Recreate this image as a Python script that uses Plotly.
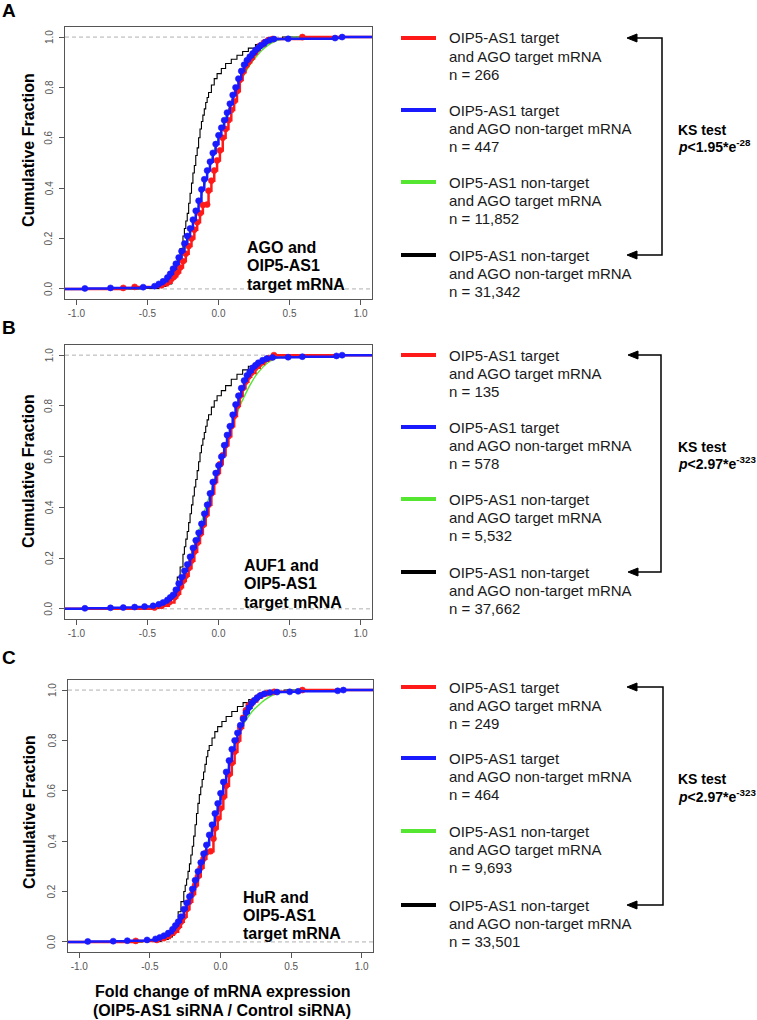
import plotly.graph_objects as go

W, H = 757, 1020
FONT = "Liberation Sans, Arial, Helvetica, sans-serif"

# ---------------- data ----------------
XLIM = [-1.08, 1.08]
YLIM = [-0.04, 1.04]
x_tick_vals = [-1.0, -0.5, 0.0, 0.5, 1.0]
x_tick_text = ["-1.0", "-0.5", "0.0", "0.5", "1.0"]
y_tick_vals = [0.0, 0.2, 0.4, 0.6, 0.8, 1.0]
y_tick_text = ["0.0", "0.2", "0.4", "0.6", "0.8", "1.0"]
ref_lines = [0.0, 1.0]

panel_letters = ["A", "B", "C"]
rbp_names = ["AGO", "AUF1", "HuR"]
series_line1 = ["OIP5-AS1 target", "OIP5-AS1 target", "OIP5-AS1 non-target", "OIP5-AS1 non-target"]
series_line2 = ["and AGO target mRNA", "and AGO non-target mRNA", "and AGO target mRNA", "and AGO non-target mRNA"]
series_colors = ["#ff1a1a", "#1a1aff", "#55e632", "#000000"]

n_A = ["266", "447", "11,852", "31,342"]
n_B = ["135", "578", "5,532", "37,662"]
n_C = ["249", "464", "9,693", "33,501"]
ks_base = ["1.95", "2.97", "2.97"]
ks_exp = ["-28", "-323", "-323"]

# Panel A
A_red_x = [-0.67, -0.59, -0.40, -0.36, -0.33, -0.31, -0.29, -0.27, -0.25, -0.23, -0.21, -0.19, -0.17, -0.15, -0.13, -0.11, -0.08, -0.07, -0.05, -0.03, -0.01, 0.01, 0.03, 0.05, 0.07, 0.09, 0.11, 0.13, 0.15, 0.17, 0.19, 0.21, 0.23, 0.25, 0.27, 0.29, 0.32, 0.35, 0.38, 0.59]
A_red_y = [0.004, 0.008, 0.015, 0.025, 0.04, 0.05, 0.065, 0.085, 0.11, 0.14, 0.17, 0.20, 0.235, 0.265, 0.30, 0.333, 0.335, 0.39, 0.43, 0.47, 0.51, 0.55, 0.60, 0.635, 0.67, 0.71, 0.745, 0.785, 0.83, 0.86, 0.885, 0.90, 0.915, 0.935, 0.95, 0.965, 0.978, 0.988, 0.992, 1.0]
A_blue_x = [-0.94, -0.76, -0.53, -0.45, -0.42, -0.39, -0.36, -0.34, -0.32, -0.30, -0.28, -0.26, -0.24, -0.22, -0.20, -0.18, -0.16, -0.14, -0.12, -0.10, -0.08, -0.06, -0.04, -0.02, 0.00, 0.02, 0.04, 0.06, 0.08, 0.10, 0.12, 0.14, 0.16, 0.18, 0.20, 0.22, 0.24, 0.26, 0.28, 0.30, 0.33, 0.36, 0.39, 0.49, 0.82, 0.87]
A_blue_y = [0.002, 0.004, 0.007, 0.011, 0.02, 0.03, 0.045, 0.06, 0.08, 0.10, 0.125, 0.15, 0.18, 0.21, 0.24, 0.275, 0.31, 0.35, 0.395, 0.435, 0.47, 0.505, 0.54, 0.575, 0.61, 0.64, 0.67, 0.70, 0.735, 0.77, 0.80, 0.835, 0.865, 0.89, 0.908, 0.922, 0.935, 0.948, 0.958, 0.968, 0.98, 0.988, 0.992, 0.993, 0.996, 1.0]
A_green_x = [-0.60, -0.45, -0.40, -0.36, -0.33, -0.30, -0.27, -0.24, -0.21, -0.18, -0.15, -0.12, -0.09, -0.06, -0.03, 0.00, 0.03, 0.06, 0.09, 0.12, 0.15, 0.18, 0.21, 0.24, 0.27, 0.30, 0.33, 0.36, 0.40, 0.45, 0.50, 0.60]
A_green_y = [0.002, 0.008, 0.015, 0.03, 0.05, 0.08, 0.11, 0.15, 0.20, 0.25, 0.31, 0.37, 0.43, 0.49, 0.55, 0.60, 0.65, 0.695, 0.74, 0.78, 0.82, 0.85, 0.88, 0.905, 0.925, 0.945, 0.96, 0.972, 0.984, 0.992, 0.997, 1.0]
A_black_x = [-0.55, -0.42, -0.37, -0.33, -0.31, -0.29, -0.27, -0.25, -0.24, -0.23, -0.22, -0.21, -0.20, -0.19, -0.18, -0.17, -0.16, -0.15, -0.14, -0.13, -0.12, -0.11, -0.10, -0.09, -0.08, -0.07, -0.05, -0.03, -0.01, 0.02, 0.05, 0.09, 0.13, 0.17, 0.21, 0.26, 0.31, 0.37, 0.45]
A_black_y = [0.002, 0.01, 0.02, 0.045, 0.075, 0.12, 0.16, 0.21, 0.24, 0.27, 0.30, 0.34, 0.38, 0.42, 0.46, 0.49, 0.53, 0.56, 0.60, 0.635, 0.665, 0.69, 0.715, 0.74, 0.76, 0.78, 0.81, 0.835, 0.855, 0.875, 0.895, 0.912, 0.928, 0.943, 0.956, 0.97, 0.982, 0.992, 1.0]

# Panel B
B_red_x = [-0.45, -0.40, -0.35, -0.31, -0.29, -0.27, -0.25, -0.23, -0.21, -0.19, -0.17, -0.15, -0.13, -0.11, -0.09, -0.07, -0.05, -0.03, -0.01, 0.01, 0.03, 0.05, 0.07, 0.09, 0.11, 0.13, 0.15, 0.17, 0.19, 0.21, 0.23, 0.26, 0.29, 0.32, 0.35, 0.39]
B_red_y = [0.005, 0.012, 0.025, 0.045, 0.06, 0.085, 0.11, 0.13, 0.16, 0.19, 0.225, 0.26, 0.295, 0.33, 0.37, 0.41, 0.455, 0.50, 0.535, 0.57, 0.605, 0.645, 0.68, 0.72, 0.76, 0.80, 0.84, 0.87, 0.895, 0.915, 0.93, 0.95, 0.965, 0.978, 0.988, 1.0]
B_blue_x = [-0.94, -0.76, -0.67, -0.59, -0.52, -0.46, -0.42, -0.39, -0.36, -0.34, -0.32, -0.30, -0.28, -0.26, -0.24, -0.22, -0.20, -0.18, -0.16, -0.14, -0.12, -0.10, -0.08, -0.06, -0.04, -0.02, 0.00, 0.02, 0.04, 0.06, 0.08, 0.10, 0.12, 0.14, 0.16, 0.18, 0.20, 0.22, 0.24, 0.26, 0.28, 0.31, 0.34, 0.38, 0.49, 0.59, 0.83, 0.87]
B_blue_y = [0.002, 0.004, 0.005, 0.007, 0.009, 0.012, 0.018, 0.025, 0.035, 0.045, 0.055, 0.075, 0.10, 0.125, 0.15, 0.175, 0.205, 0.24, 0.27, 0.30, 0.335, 0.375, 0.41, 0.455, 0.50, 0.535, 0.565, 0.60, 0.645, 0.685, 0.72, 0.765, 0.805, 0.84, 0.87, 0.90, 0.92, 0.935, 0.95, 0.96, 0.97, 0.98, 0.987, 0.991, 0.992, 0.994, 0.997, 1.0]
B_green_x = [-0.60, -0.45, -0.40, -0.36, -0.33, -0.30, -0.27, -0.24, -0.21, -0.18, -0.15, -0.12, -0.09, -0.06, -0.03, 0.00, 0.03, 0.06, 0.09, 0.12, 0.15, 0.18, 0.21, 0.24, 0.27, 0.30, 0.33, 0.36, 0.40, 0.45, 0.50, 0.60]
B_green_y = [0.002, 0.008, 0.015, 0.03, 0.05, 0.075, 0.10, 0.14, 0.185, 0.235, 0.285, 0.34, 0.40, 0.45, 0.505, 0.56, 0.61, 0.66, 0.71, 0.755, 0.80, 0.835, 0.87, 0.90, 0.925, 0.945, 0.962, 0.975, 0.986, 0.994, 0.998, 1.0]
B_black_x = [-0.55, -0.42, -0.37, -0.33, -0.31, -0.29, -0.27, -0.25, -0.24, -0.23, -0.22, -0.21, -0.20, -0.19, -0.18, -0.17, -0.16, -0.15, -0.14, -0.13, -0.12, -0.11, -0.10, -0.09, -0.08, -0.07, -0.05, -0.03, -0.01, 0.02, 0.05, 0.09, 0.13, 0.17, 0.21, 0.26, 0.31, 0.37, 0.45]
B_black_y = [0.002, 0.01, 0.02, 0.045, 0.075, 0.125, 0.165, 0.215, 0.245, 0.275, 0.305, 0.34, 0.375, 0.41, 0.445, 0.48, 0.51, 0.545, 0.58, 0.615, 0.645, 0.67, 0.695, 0.72, 0.745, 0.765, 0.795, 0.82, 0.84, 0.86, 0.88, 0.905, 0.925, 0.942, 0.956, 0.97, 0.982, 0.992, 1.0]

# Panel C
C_red_x = [-0.60, -0.45, -0.40, -0.36, -0.33, -0.30, -0.28, -0.26, -0.24, -0.22, -0.20, -0.18, -0.16, -0.14, -0.12, -0.10, -0.07, -0.05, -0.04, -0.02, 0.00, 0.02, 0.04, 0.06, 0.08, 0.10, 0.12, 0.14, 0.16, 0.18, 0.20, 0.23, 0.26, 0.29, 0.33, 0.38, 0.58]
C_red_y = [0.004, 0.008, 0.016, 0.028, 0.04, 0.06, 0.08, 0.10, 0.13, 0.16, 0.19, 0.225, 0.26, 0.295, 0.33, 0.355, 0.36, 0.41, 0.45, 0.49, 0.53, 0.575, 0.62, 0.665, 0.71, 0.755, 0.80, 0.85, 0.89, 0.92, 0.94, 0.955, 0.97, 0.98, 0.988, 0.993, 1.0]
C_blue_x = [-0.94, -0.76, -0.66, -0.52, -0.46, -0.43, -0.40, -0.37, -0.34, -0.32, -0.30, -0.28, -0.26, -0.24, -0.22, -0.20, -0.18, -0.16, -0.14, -0.12, -0.10, -0.08, -0.06, -0.04, -0.02, 0.00, 0.02, 0.04, 0.06, 0.08, 0.10, 0.12, 0.14, 0.16, 0.18, 0.20, 0.22, 0.24, 0.26, 0.28, 0.31, 0.35, 0.40, 0.49, 0.55, 0.83, 0.87]
C_blue_y = [0.002, 0.003, 0.005, 0.008, 0.012, 0.018, 0.025, 0.035, 0.05, 0.065, 0.08, 0.10, 0.13, 0.155, 0.18, 0.21, 0.245, 0.28, 0.315, 0.35, 0.385, 0.425, 0.465, 0.51, 0.55, 0.59, 0.635, 0.675, 0.72, 0.765, 0.80, 0.83, 0.86, 0.885, 0.91, 0.93, 0.948, 0.96, 0.97, 0.978, 0.985, 0.99, 0.992, 0.993, 0.995, 0.997, 1.0]
C_green_x = [-0.60, -0.45, -0.40, -0.36, -0.33, -0.30, -0.27, -0.24, -0.21, -0.18, -0.15, -0.12, -0.09, -0.06, -0.03, 0.00, 0.03, 0.06, 0.09, 0.12, 0.15, 0.18, 0.21, 0.24, 0.27, 0.30, 0.33, 0.36, 0.40, 0.45, 0.50, 0.60]
C_green_y = [0.002, 0.008, 0.015, 0.03, 0.045, 0.07, 0.10, 0.14, 0.19, 0.24, 0.29, 0.34, 0.395, 0.45, 0.51, 0.575, 0.635, 0.70, 0.765, 0.82, 0.855, 0.88, 0.905, 0.925, 0.94, 0.955, 0.967, 0.977, 0.986, 0.993, 0.998, 1.0]
C_black_x = [-0.55, -0.42, -0.37, -0.34, -0.32, -0.30, -0.28, -0.26, -0.25, -0.24, -0.23, -0.22, -0.21, -0.20, -0.19, -0.18, -0.17, -0.16, -0.15, -0.14, -0.13, -0.12, -0.11, -0.10, -0.09, -0.08, -0.06, -0.04, -0.02, 0.01, 0.04, 0.08, 0.12, 0.16, 0.20, 0.25, 0.30, 0.36, 0.45]
C_black_y = [0.002, 0.01, 0.02, 0.04, 0.07, 0.12, 0.16, 0.20, 0.225, 0.25, 0.28, 0.31, 0.345, 0.38, 0.42, 0.465, 0.51, 0.55, 0.585, 0.615, 0.645, 0.675, 0.705, 0.735, 0.76, 0.78, 0.81, 0.835, 0.855, 0.875, 0.895, 0.915, 0.935, 0.95, 0.962, 0.975, 0.986, 0.994, 1.0]

panels = [
    {"red": (A_red_x, A_red_y), "blue": (A_blue_x, A_blue_y), "green": (A_green_x, A_green_y), "black": (A_black_x, A_black_y), "n": n_A},
    {"red": (B_red_x, B_red_y), "blue": (B_blue_x, B_blue_y), "green": (B_green_x, B_green_y), "black": (B_black_x, B_black_y), "n": n_B},
    {"red": (C_red_x, C_red_y), "blue": (C_blue_x, C_blue_y), "green": (C_green_x, C_green_y), "black": (C_black_x, C_black_y), "n": n_C},
]

# ---------------- layout geometry (pixels) ----------------
frames = [(65, 372, 27, 299), (65, 372, 345, 619), (68, 373, 680, 952)]
legend_y = [[38, 110, 182, 255], [355, 427, 499, 572], [687, 758, 831, 905]]
inset_pos = [(245, [247, 266, 284]), (242, [565, 583, 602]), (241, [897, 915, 933])]
letter_y = [11, 328, 657]
ytitle_pos = [(28, 150), (28, 471), (29, 812)]
bracket_x = [662, 661, 663]
arrow_tip_x = [627, 628, 627]


def px(x):
    return x / W


def py(y):
    return 1 - y / H


color_of = {"red": series_colors[0], "blue": series_colors[1], "green": series_colors[2], "black": series_colors[3]}

fig = go.Figure()
layout_axes = {}
shapes = []
annotations = []

for i, p in enumerate(panels):
    k = "" if i == 0 else str(i + 1)
    xa, ya = "x" + k, "y" + k
    l, r, t, b = frames[i]
    layout_axes["xaxis" + k] = dict(
        domain=[px(l), px(r)], anchor=ya, range=XLIM, tickvals=x_tick_vals, ticktext=x_tick_text,
        ticks="outside", ticklen=5, tickcolor="#555", tickwidth=1, showline=True, mirror=True,
        linecolor="#555", linewidth=1, showgrid=False, zeroline=False,
        tickfont=dict(size=10, color="#555", family=FONT),
    )
    layout_axes["yaxis" + k] = dict(
        domain=[py(b), py(t)], anchor=xa, range=YLIM, tickvals=y_tick_vals,
        ticks="outside", ticklen=5, tickcolor="#555", tickwidth=1, showline=True, mirror=True,
        linecolor="#555", linewidth=1, showgrid=False, zeroline=False, showticklabels=False,
    )
    # rotated y tick labels (placed on the y scale)
    for tv, tt in zip(y_tick_vals, y_tick_text):
        annotations.append(dict(text=tt, x=px(l - 16), y=tv, xref="paper", yref=ya,
                                xanchor="center", yanchor="middle", textangle=-90, showarrow=False,
                                font=dict(size=10, color="#555", family=FONT)))
    for rv in ref_lines:
        shapes.append(dict(type="line", xref=xa + " domain", yref=ya, x0=0, x1=1, y0=rv, y1=rv,
                           line=dict(color="#b0b0b0", width=1, dash="4px,3px"), layer="below"))
    for s in ["black", "green", "red", "blue"]:
        xs, ys = p[s]
        X = [XLIM[0]] + list(xs) + [XLIM[1]]
        Y = [0.0] + list(ys) + [ys[-1]]
        if s in ("red", "blue"):
            sizes = [0] + [6] * len(xs) + [0]
            fig.add_trace(go.Scatter(x=X, y=Y, xaxis=xa, yaxis=ya, mode="lines+markers",
                                     line=dict(color=color_of[s], width=2.5, shape="hv"),
                                     marker=dict(color=color_of[s], size=sizes, opacity=1,
                                                 line=dict(width=0.6, color=color_of[s])),
                                     showlegend=False, hoverinfo="skip"))
        elif s == "black":
            fig.add_trace(go.Scatter(x=X, y=Y, xaxis=xa, yaxis=ya, mode="lines",
                                     line=dict(color=color_of[s], width=1.1, shape="hv"),
                                     showlegend=False, hoverinfo="skip"))
        else:
            fig.add_trace(go.Scatter(x=X, y=Y, xaxis=xa, yaxis=ya, mode="lines",
                                     line=dict(color=color_of[s], width=1.4, shape="spline", smoothing=0.6),
                                     showlegend=False, hoverinfo="skip"))

    # panel letter
    annotations.append(dict(text="<b>%s</b>" % panel_letters[i], x=px(0), y=py(letter_y[i]), xref="paper", yref="paper",
                            xanchor="left", yanchor="middle", showarrow=False,
                            font=dict(size=19, color="black", family=FONT)))
    # y-axis title
    tx, ty = ytitle_pos[i]
    annotations.append(dict(text="<b>Cumulative Fraction</b>", x=px(tx), y=py(ty), xref="paper", yref="paper",
                            xanchor="center", yanchor="middle", textangle=-90, showarrow=False,
                            font=dict(size=16, color="black", family=FONT)))
    # inset text
    ix, iys = inset_pos[i]
    for line, yy in zip([rbp_names[i] + " and", "OIP5-AS1", "target mRNA"], iys):
        annotations.append(dict(text="<b>%s</b>" % line, x=px(ix), y=py(yy), xref="paper", yref="paper",
                                xanchor="left", yanchor="middle", showarrow=False,
                                font=dict(size=16, color="black", family=FONT)))
    # legend
    for j in range(4):
        gy = legend_y[i][j]
        shapes.append(dict(type="line", xref="paper", yref="paper", x0=px(401), x1=px(436), y0=py(gy), y1=py(gy),
                           line=dict(color=series_colors[j], width=4)))
        for li, line in enumerate([series_line1[j], series_line2[j], "n = " + p["n"][j]]):
            annotations.append(dict(text=line, x=px(447), y=py(gy + li * 18.3), xref="paper", yref="paper",
                                    xanchor="left", yanchor="middle", showarrow=False,
                                    font=dict(size=15, color="#1a1a1a", family=FONT)))
    # bracket with arrowheads
    y_top, y_bot = legend_y[i][0], legend_y[i][3]
    bx = bracket_x[i]
    tip = arrow_tip_x[i]
    shapes.append(dict(type="path", xref="paper", yref="paper",
                       path="M %f,%f L %f,%f L %f,%f L %f,%f" % (px(tip + 6), py(y_top), px(bx), py(y_top),
                                                                 px(bx), py(y_bot), px(tip + 6), py(y_bot)),
                       line=dict(color="black", width=1.5)))
    for yy in (y_top, y_bot):
        shapes.append(dict(type="path", xref="paper", yref="paper",
                           path="M %f,%f L %f,%f L %f,%f Z" % (px(tip), py(yy), px(tip + 10), py(yy - 4),
                                                              px(tip + 10), py(yy + 4)),
                           fillcolor="black", line=dict(color="black", width=1)))
    mid = (y_top + y_bot) / 2
    annotations.append(dict(text="<b>KS test</b>", x=px(676), y=py(mid - 17), xref="paper", yref="paper",
                            xanchor="left", yanchor="middle", showarrow=False,
                            font=dict(size=14, color="black", family=FONT)))
    annotations.append(dict(text="<b><i>p</i>&lt;%s*e<sup>%s</sup></b>" % (ks_base[i], ks_exp[i]),
                            x=px(676), y=py(mid), xref="paper", yref="paper",
                            xanchor="left", yanchor="middle", showarrow=False,
                            font=dict(size=14, color="black", family=FONT)))

# x-axis title (bottom panel)
annotations.append(dict(text="<b>Fold change of mRNA expression</b>", x=px(222), y=py(991), xref="paper", yref="paper",
                        xanchor="center", yanchor="middle", showarrow=False, font=dict(size=16, color="black", family=FONT)))
annotations.append(dict(text="<b>(OIP5-AS1 siRNA / Control siRNA)</b>", x=px(222), y=py(1010), xref="paper", yref="paper",
                        xanchor="center", yanchor="middle", showarrow=False, font=dict(size=16, color="black", family=FONT)))

fig.update_layout(
    width=W, height=H, margin=dict(l=0, r=0, t=0, b=0),
    paper_bgcolor="white", plot_bgcolor="white",
    shapes=shapes, annotations=annotations, showlegend=False,
    font=dict(family=FONT),
    **layout_axes,
)

fig.write_html("out.html", config={"displayModeBar": False},
               post_script="document.body.style.margin='0px';document.body.style.overflow='hidden';")
